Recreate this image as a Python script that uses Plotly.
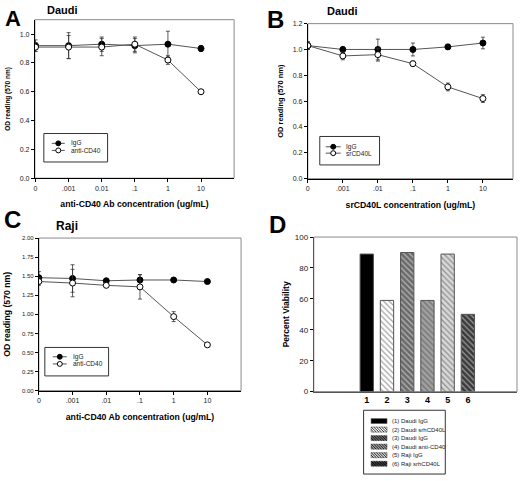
import plotly.graph_objects as go

W, H = 520, 481
FONT = "Liberation Sans, Arial, sans-serif"

# ---------------- data ----------------
conc_a = ["0", ".001", "0.01", ".1", "1", "10"]
conc_b = ["0", ".001", ".01", ".1", "1", "10"]
conc_c = ["0", ".001", ".01", ".1", "1", "10"]

a_igg = [0.92, 0.92, 0.93, 0.92, 0.93, 0.90]
a_igg_err = [0.04, 0.09, 0.05, 0.05, 0.09, 0.02]
a_cd40 = [0.91, 0.91, 0.91, 0.93, 0.82, 0.60]
a_cd40_err = [0.03, 0.08, 0.06, 0.05, 0.03, 0.01]

b_igg = [1.03, 1.00, 1.00, 1.00, 1.02, 1.05]
b_igg_err = [0.03, 0.02, 0.08, 0.05, 0.02, 0.045]
b_cd40l = [1.03, 0.95, 0.96, 0.89, 0.71, 0.62]
b_cd40l_err = [0.03, 0.03, 0.05, 0.02, 0.03, 0.03]

c_igg = [1.48, 1.47, 1.44, 1.45, 1.45, 1.43]
c_igg_err = [0.08, 0.18, 0.02, 0.07, 0.02, 0.02]
c_cd40 = [1.43, 1.41, 1.38, 1.36, 0.97, 0.60]
c_cd40_err = [0.05, 0.18, 0.02, 0.16, 0.065, 0.01]

d_labels = ["1", "2", "3", "4", "5", "6"]
d_names = ["(1) Daudi IgG", "(2) Daudi srhCD40L", "(3) Daudi IgG",
           "(4) Daudi anti-CD40", "(5) Raji IgG", "(6) Raji srhCD40L"]
d_values = [89, 59, 90, 59, 89, 50]

# ---------------- styles ----------------
d_fill = ["#000000", "#ffffff", "#6a6a6a", "#a0a0a0", "#d8d8d8", "#3a3a3a"]
d_shape = ["", "\\", "\\", "\\", "\\", "\\"]


def px(x):
    return x / W


def py(y):
    return 1 - y / H


fig = go.Figure()


def add_series(xa, ya, labels, y, err, name, filled):
    fig.add_trace(go.Scatter(
        x=list(range(len(labels))), y=y, name=name, mode="lines+markers",
        xaxis=xa, yaxis=ya, showlegend=False,
        line=dict(color="#555555", width=1),
        marker=dict(symbol="circle", size=6,
                    color="black" if filled else "white",
                    line=dict(color="black", width=1)),
        error_y=dict(type="data", array=err, color="#333333",
                     thickness=0.8, width=2),
    ))


add_series("x", "y", conc_a, a_igg, a_igg_err, "IgG", True)
add_series("x", "y", conc_a, a_cd40, a_cd40_err, "anti-CD40", False)
add_series("x2", "y2", conc_b, b_igg, b_igg_err, "IgG", True)
add_series("x2", "y2", conc_b, b_cd40l, b_cd40l_err, "srCD40L", False)
add_series("x3", "y3", conc_c, c_igg, c_igg_err, "IgG", True)
add_series("x3", "y3", conc_c, c_cd40, c_cd40_err, "anti-CD40", False)

fig.add_trace(go.Bar(
    x=list(range(1, len(d_values) + 1)), y=d_values, width=0.66,
    xaxis="x4", yaxis="y4", showlegend=False,
    marker=dict(color=d_fill, line=dict(color="#555555", width=1),
                pattern=dict(shape=d_shape, fgcolor="black", size=4,
                             solidity=0.3, fillmode="overlay")),
))


def tickfont(s):
    return dict(family=FONT, size=s, color="#222222")


def xcat(domain, rng, labels, anchor, title, tsize, standoff):
    return dict(domain=domain, range=rng, anchor=anchor,
                tickmode="array", tickvals=list(range(len(labels))), ticktext=labels,
                showline=True, linecolor="black", linewidth=1,
                ticks="outside", ticklen=3, tickcolor="black", tickwidth=1,
                tickfont=tickfont(7), showgrid=False, zeroline=False,
                title=dict(text=title, standoff=standoff,
                           font=dict(family=FONT, size=tsize, color="black", weight="bold")))


def ylin(domain, rng, dtick, fmt, anchor, title, tsize, standoff, tfs=7):
    return dict(domain=domain, range=rng, anchor=anchor, tick0=0, dtick=dtick,
                tickformat=fmt, showline=True, linecolor="black", linewidth=1,
                ticks="outside", ticklen=3, tickcolor="black", tickwidth=1,
                tickfont=tickfont(tfs), showgrid=False, zeroline=False,
                title=dict(text=title, standoff=standoff,
                           font=dict(family=FONT, size=tsize, color="black", weight="bold")))


fig.update_layout(
    width=W, height=H, margin=dict(l=0, r=0, t=0, b=0),
    paper_bgcolor="white", plot_bgcolor="white",
    font=dict(family=FONT), showlegend=False,
    xaxis=xcat([px(33), px(233)], [-0.02, 6.0], conc_a, "y",
               "anti-CD40 Ab concentration (ug/mL)", 8.7, 10),
    yaxis=ylin([py(177.5), py(16)], [0, 1.1], 0.2, ".1f", "x",
               "OD reading (570 nm)", 6.5, 8),
    xaxis2=xcat([px(307), px(513)], [0, 5.86], conc_b, "y2",
                "srCD40L concentration (ug/mL)", 8.7, 10),
    yaxis2=ylin([py(178), py(20)], [0, 1.2], 0.2, ".1f", "x2",
                "OD reading (570 nm)", 7.5, 8),
    xaxis3=xcat([px(37), px(240)], [0, 6.0], conc_c, "y3",
                "anti-CD40 Ab concentration (ug/mL)", 8.7, 10),
    yaxis3=ylin([py(394), py(238.5)], [0, 2.0], 0.25, ".2f", "x3",
                "OD reading (570 nm)", 8.7, 9, tfs=6),
    xaxis4=dict(domain=[px(313), px(517)], range=[-1.62, 8.43], anchor="y4",
                tickmode="array", tickvals=list(range(1, len(d_labels) + 1)),
                ticktext=d_labels, showline=True, linecolor="#555555", linewidth=1,
                ticks="", showgrid=False, zeroline=False,
                tickfont=dict(family=FONT, size=9, color="black", weight="bold")),
    yaxis4=ylin([py(395), py(237.5)], [0, 100], 20, "d", "x4",
                "Percent Viability", 8.5, 3, tfs=8),
)
fig.update_layout(yaxis4=dict(linecolor="#555555"))

shapes = []
annotations = []

# light grey plot frames
for ax in ["x", "x2", "x3", "x4"]:
    yax = "y" + ax[1:]
    shapes.append(dict(type="rect", xref=f"{ax} domain", yref=f"{yax} domain",
                       x0=0, x1=1, y0=0, y1=1, layer="below",
                       line=dict(color="#8a8a8a", width=1), fillcolor="rgba(0,0,0,0)"))


def text(t, x, y, size, bold=False, xanchor="left", yanchor="middle", color="#222222"):
    f = dict(family=FONT, size=size, color=color)
    if bold:
        f["weight"] = "bold"
    annotations.append(dict(text=t, xref="paper", yref="paper", x=px(x), y=py(y),
                            xanchor=xanchor, yanchor=yanchor, showarrow=False, font=f))


# compact legends for the line panels (A, B, C)
line_legends = [
    ((42, 132, 106, 161), (50, 63), 67.5, [("IgG", True), ("anti-CD40", False)], 142, 7.2),
    ((319, 135, 379, 164), (325, 340), 343, [("IgG", True), ("srCD40L", False)], 145.5, 6.5),
    ((43, 350, 107, 379), (51, 65), 69, [("IgG", True), ("anti-CD40", False)], 359.5, 7.3),
]
for (bx0, by0, bx1, by1), (kx0, kx1), tx, items, r0, gap in line_legends:
    shapes.append(dict(type="rect", xref="paper", yref="paper",
                       x0=px(bx0), x1=px(bx1), y0=py(by1), y1=py(by0),
                       line=dict(color="#333333", width=1), fillcolor="white"))
    for k, (name, filled) in enumerate(items):
        yc = r0 + k * gap
        shapes.append(dict(type="line", xref="paper", yref="paper",
                           x0=px(kx0), x1=px(kx1), y0=py(yc), y1=py(yc),
                           line=dict(color="#555555", width=1)))
        xm = (kx0 + kx1) / 2
        shapes.append(dict(type="circle", xref="paper", yref="paper",
                           x0=px(xm - 2.5), x1=px(xm + 2.5), y0=py(yc + 2.5), y1=py(yc - 2.5),
                           line=dict(color="black", width=1),
                           fillcolor="black" if filled else "white"))
        text(name, tx, yc, 6.5)

# compact legend for panel D
box = (363, 414, 445, 479)
shapes.append(dict(type="rect", xref="paper", yref="paper",
                   x0=px(box[0]), x1=px(box[2]), y0=py(box[3]), y1=py(box[1]),
                   line=dict(color="#333333", width=1), fillcolor="white"))
row0, row_gap = 425.0, 8.7
sw_x0, sw_x1, sw_h = 370.5, 386.5, 5.0
for i, name in enumerate(d_names):
    yc = row0 + i * row_gap
    y0, y1 = yc - sw_h / 2, yc + sw_h / 2
    shapes.append(dict(type="rect", xref="paper", yref="paper",
                       x0=px(sw_x0), x1=px(sw_x1), y0=py(y1), y1=py(y0),
                       line=dict(color="#555555", width=0.6), fillcolor=d_fill[i]))
    if d_shape[i]:
        segs = []
        t = sw_x0 - sw_h
        while t < sw_x1:
            xa, ya = t, y0
            xb, yb = t + sw_h, y1
            if xa < sw_x0:
                ya = y0 + (sw_x0 - xa)
                xa = sw_x0
            if xb > sw_x1:
                yb = y1 - (xb - sw_x1)
                xb = sw_x1
            if xb > xa:
                segs.append(f"M {px(xa):.5f} {py(ya):.5f} L {px(xb):.5f} {py(yb):.5f}")
            t += 2.6
        shapes.append(dict(type="path", xref="paper", yref="paper", path=" ".join(segs),
                           line=dict(color="black", width=0.8)))
    text(name, 389, yc, 6)

# panel letters and titles
text("A", 11, 0, 22, bold=True, xanchor="center", yanchor="top", color="black")
text("B", 275, 0, 24, bold=True, xanchor="center", yanchor="top", color="black")
text("C", 11, 235, 24, bold=True, xanchor="center", yanchor="bottom", color="black")
text("D", 277, 240, 24, bold=True, xanchor="center", yanchor="bottom", color="black")
text("Daudi", 61, 6, 11, bold=True, xanchor="center", color="black")
text("Daudi", 342, 7, 11, bold=True, xanchor="center", color="black")
text("Raji", 65, 226, 12, bold=True, xanchor="center", color="black")

fig.update_layout(shapes=shapes, annotations=annotations)
fig.write_html("out.html", config={"displayModeBar": False},
               post_script="document.body.style.margin='0';document.body.style.overflow='hidden';")
